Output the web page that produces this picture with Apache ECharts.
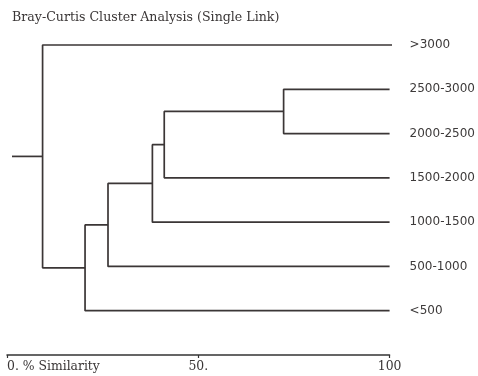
<!DOCTYPE html>
<html>
<head>
<meta charset="utf-8">
<script src="https://cdn.jsdelivr.net/npm/echarts@6/dist/echarts.min.js"></script>
<style>html,body{margin:0;padding:0;background:#fff}#c{width:478px;height:376px}</style>
</head>
<body>
<div id="c"></div>
<script>
// Leaves (top to bottom)
const leaves = ['>3000', '2500-3000', '2000-2500', '1500-2000', '1000-1500', '500-1000', '<500'];
const leafSimilarity = [101, 100, 100, 100, 100, 100, 100];
// Merges: indices 0..6 are leaves, 7.. are merge nodes in order
const mergeA = [1, 7, 8, 9, 10, 0];
const mergeB = [2, 3, 4, 5, 6, 11];
const mergeSimilarity = [72.3, 41.1, 38.0, 26.4, 20.4, 9.3];
const rootSimilarity = 1.3;
const tickValues = [0, 50, 100];
const tickLabels = ['0. % Similarity', '50.', '100'];

const LINE = '#3b3636';
const nodeX = leafSimilarity.slice();
const nodeY = leaves.map((_, i) => i);
const series = [];
function seg(points) {
  series.push({
    type: 'line', data: points, symbol: 'none', clip: false, silent: true,
    lineStyle: { color: LINE, width: 1.7 }, animation: false
  });
}
mergeA.forEach((a, k) => {
  const b = mergeB[k];
  const s = mergeSimilarity[k];
  seg([[nodeX[a], nodeY[a]], [s, nodeY[a]], [s, nodeY[b]], [nodeX[b], nodeY[b]]]);
  nodeX.push(s);
  nodeY.push((nodeY[a] + nodeY[b]) / 2);
});
const root = nodeX.length - 1;
seg([[nodeX[root], nodeY[root]], [rootSimilarity, nodeY[root]]]);

const chart = echarts.init(document.getElementById('c'), null, { renderer: 'canvas' });
chart.setOption({
  animation: false,
  title: {
    text: 'Bray-Curtis Cluster Analysis (Single Link)',
    left: 7, top: 6,
    textStyle: { fontFamily: 'DejaVu Serif', fontSize: 12.6, fontWeight: 'normal', color: '#3a3636' }
  },
  grid: { left: 7, right: 85, top: 45, bottom: 21 },
  xAxis: {
    type: 'value', min: 0, max: 100, interval: 50, position: 'bottom',
    axisLine: { show: true, onZero: false, lineStyle: { color: '#333', width: 1.5 } },
    axisTick: { show: true, length: 3, lineStyle: { color: '#333', width: 1.2 } },
    splitLine: { show: false },
    axisLabel: {
      margin: 6, fontFamily: 'DejaVu Serif', fontSize: 12.4, color: '#3a3636',
      alignMinLabel: 'left',
      formatter: v => { const i = tickValues.indexOf(v); return i >= 0 ? tickLabels[i] : ''; }
    }
  },
  yAxis: {
    type: 'value', inverse: true, min: 0, max: 7, interval: 1, position: 'right',
    axisLine: { show: false }, axisTick: { show: false }, splitLine: { show: false },
    axisLabel: {
      margin: 20, align: 'left', fontFamily: 'DejaVu Sans', fontSize: 12, color: '#3d3a3a',
      formatter: v => (leaves[v] !== undefined ? leaves[v] : '')
    }
  },
  series: series
});
</script>
</body>
</html>
